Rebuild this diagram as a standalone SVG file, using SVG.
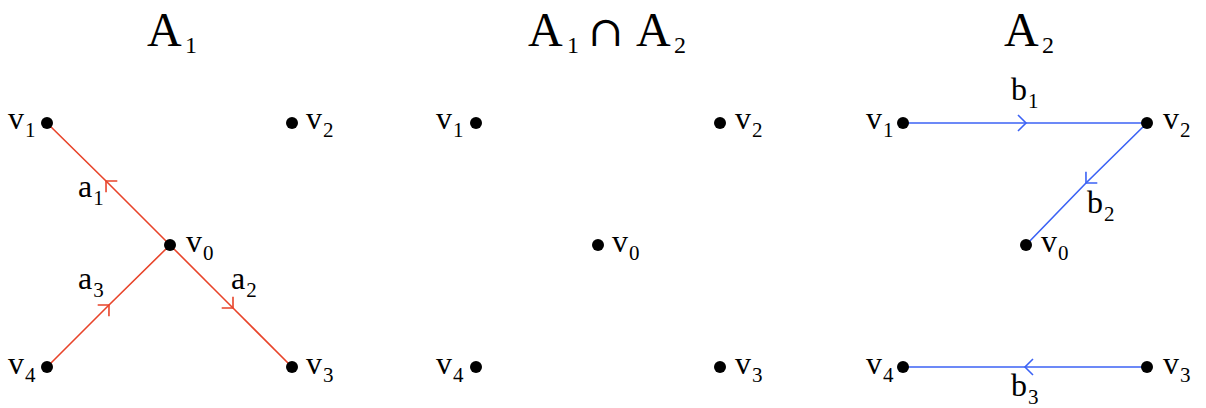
<svg xmlns="http://www.w3.org/2000/svg" width="1206" height="408" viewBox="0 0 1206 408">
<style>
text{font-family:"Liberation Serif","Times New Roman",serif;fill:#000}
.t{font-size:48px}
.ts{font-size:24px}
.cap{font-size:42px;font-family:"DejaVu Serif","Liberation Serif",serif}
.l{font-size:32px}
.s{font-size:21px}
.dot{fill:#000}
.red{stroke:#e8442a;stroke-width:1.6;fill:none;marker-mid:url(#mr)}
.blue{stroke:#3b62f5;stroke-width:1.6;fill:none;marker-mid:url(#mb)}
</style>
<defs>
<marker id="mr" markerUnits="userSpaceOnUse" viewBox="-12 -10 14 20" markerWidth="14" markerHeight="20" refX="0" refY="0" orient="auto" overflow="visible">
<path d="M-8,-8 L0,0 L-8,8" fill="none" stroke="#e8442a" stroke-width="1.6"/>
</marker>
<marker id="mb" markerUnits="userSpaceOnUse" viewBox="-12 -10 14 20" markerWidth="14" markerHeight="20" refX="0" refY="0" orient="auto" overflow="visible">
<path d="M-8,-8 L0,0 L-8,8" fill="none" stroke="#3b62f5" stroke-width="1.6"/>
</marker>
</defs>

<g id="titles">
<text class="t" x="147" y="46">A</text><text class="ts" x="185" y="53">1</text>
<text class="t" x="528" y="46">A</text><text class="ts" x="567" y="53">1</text>
<text class="cap" x="588" y="46">∩</text>
<text class="t" x="636" y="46">A</text><text class="ts" x="674" y="53">2</text>
<text class="t" x="1004" y="46">A</text><text class="ts" x="1042" y="53">2</text>
</g>

<g id="connectors">
<path class="red" d="M170,245 L106,181 L47,123"/>
<path class="red" d="M47,367 L109,305 L170,245"/>
<path class="red" d="M170,245 L233,308 L292,367"/>
<path class="blue" d="M903,123 L1026,123 L1147,123"/>
<path class="blue" d="M1147,123 L1086,183 L1026,245"/>
<path class="blue" d="M1147,367 L1025,367 L903,367"/>
</g>

<g id="edge-labels">
<text class="l" x="78" y="197">a<tspan class="s" dx="1" dy="8">1</tspan></text>
<text class="l" x="78" y="289">a<tspan class="s" dx="1" dy="8">3</tspan></text>
<text class="l" x="231" y="289">a<tspan class="s" dx="1" dy="8">2</tspan></text>
<text class="l" x="1011" y="100">b<tspan class="s" dx="1" dy="8">1</tspan></text>
<text class="l" x="1087" y="213">b<tspan class="s" dx="1" dy="8">2</tspan></text>
<text class="l" x="1011" y="396">b<tspan class="s" dx="1" dy="8">3</tspan></text>
</g>

<g id="p1-v1"><circle class="dot" cx="47" cy="123" r="6"/><text class="l" x="8" y="129">v<tspan class="s" dx="1" dy="8">1</tspan></text></g>
<g id="p1-v2"><circle class="dot" cx="292" cy="123" r="6"/><text class="l" x="306" y="129">v<tspan class="s" dx="1" dy="8">2</tspan></text></g>
<g id="p1-v0"><circle class="dot" cx="170" cy="245" r="6"/><text class="l" x="186" y="252">v<tspan class="s" dx="1" dy="8">0</tspan></text></g>
<g id="p1-v4"><circle class="dot" cx="47" cy="367" r="6"/><text class="l" x="8" y="374">v<tspan class="s" dx="1" dy="8">4</tspan></text></g>
<g id="p1-v3"><circle class="dot" cx="292" cy="367" r="6"/><text class="l" x="306" y="374">v<tspan class="s" dx="1" dy="8">3</tspan></text></g>

<g id="p2-v1"><circle class="dot" cx="476" cy="123" r="6"/><text class="l" x="436" y="129">v<tspan class="s" dx="1" dy="8">1</tspan></text></g>
<g id="p2-v2"><circle class="dot" cx="720" cy="123" r="6"/><text class="l" x="735" y="129">v<tspan class="s" dx="1" dy="8">2</tspan></text></g>
<g id="p2-v0"><circle class="dot" cx="598" cy="245" r="6"/><text class="l" x="612" y="252">v<tspan class="s" dx="1" dy="8">0</tspan></text></g>
<g id="p2-v4"><circle class="dot" cx="476" cy="367" r="6"/><text class="l" x="436" y="374">v<tspan class="s" dx="1" dy="8">4</tspan></text></g>
<g id="p2-v3"><circle class="dot" cx="720" cy="367" r="6"/><text class="l" x="735" y="374">v<tspan class="s" dx="1" dy="8">3</tspan></text></g>

<g id="p3-v1"><circle class="dot" cx="903" cy="123" r="6"/><text class="l" x="866" y="129">v<tspan class="s" dx="1" dy="8">1</tspan></text></g>
<g id="p3-v2"><circle class="dot" cx="1147" cy="123" r="6"/><text class="l" x="1163" y="129">v<tspan class="s" dx="1" dy="8">2</tspan></text></g>
<g id="p3-v0"><circle class="dot" cx="1026" cy="245" r="6"/><text class="l" x="1041" y="252">v<tspan class="s" dx="1" dy="8">0</tspan></text></g>
<g id="p3-v4"><circle class="dot" cx="903" cy="367" r="6"/><text class="l" x="866" y="374">v<tspan class="s" dx="1" dy="8">4</tspan></text></g>
<g id="p3-v3"><circle class="dot" cx="1147" cy="367" r="6"/><text class="l" x="1163" y="374">v<tspan class="s" dx="1" dy="8">3</tspan></text></g>
</svg>
